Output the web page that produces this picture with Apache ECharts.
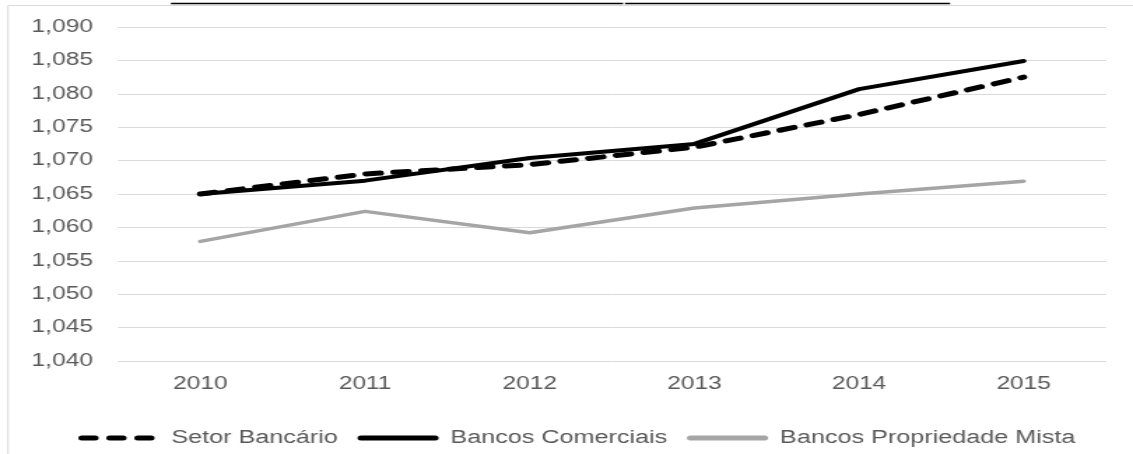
<!DOCTYPE html>
<html>
<head>
<meta charset="utf-8">
<script src="https://cdn.jsdelivr.net/npm/echarts@6/dist/echarts.min.js"></script>
<style>
  html, body { margin: 0; padding: 0; background: #fff; overflow: hidden; }
  #chart { width: 810px; height: 454px; transform: scaleX(1.39877); transform-origin: 0 0; }
</style>
</head>
<body>
<div id="chart"></div>
<script>
// Years on the category axis
const years = ['2010', '2011', '2012', '2013', '2014', '2015'];

// Series values
const setorBancario = [1.0650, 1.0680, 1.0694, 1.0720, 1.0769, 1.0825];
const bancosComerciais = [1.0650, 1.0670, 1.0704, 1.0725, 1.0807, 1.0849];
const bancosPropriedadeMista = [1.0579, 1.0624, 1.0592, 1.0629, 1.0650, 1.0669];

// Value axis range
const yMin = 1.040;
const yMax = 1.090;
const yStep = 0.005;

const labelColor = '#595959';
const fontFamily = '"Liberation Sans", Arial, sans-serif';

const dashPattern = [10.5, 9.5];

const chart = echarts.init(document.getElementById('chart'));

chart.setOption({
  animation: false,
  backgroundColor: '#ffffff',
  grid: { left: 84.4, right: 19.3, top: 27, bottom: 93 },
  xAxis: {
    type: 'category',
    data: years,
    boundaryGap: true,
    axisLine: { show: false },
    axisTick: { show: false },
    axisLabel: { color: labelColor, fontSize: 17.5, fontFamily: fontFamily, margin: 14 }
  },
  yAxis: {
    type: 'value',
    min: yMin,
    max: yMax,
    interval: yStep,
    axisLine: { show: false },
    axisTick: { show: false },
    splitLine: { lineStyle: { color: '#d9d9d9', width: 1 } },
    axisLabel: {
      color: labelColor, fontSize: 17.5, fontFamily: fontFamily, margin: 18,
      formatter: v => v.toFixed(3).replace('.', ',')
    }
  },
  legend: {
    left: 51,
    top: 424,
    itemWidth: 53,
    itemHeight: 14,
    itemGap: 14,
    itemStyle: { opacity: 0 },
    textStyle: { color: labelColor, fontSize: 18, fontFamily: fontFamily, padding: [0, 0, 0, 6] },
    data: [
      { name: 'Setor Bancário', itemStyle: { opacity: 0 }, lineStyle: { color: '#000000', width: 5, type: [9.5, 10.5], cap: 'round' } },
      { name: 'Bancos Comerciais', itemStyle: { opacity: 0 }, lineStyle: { color: '#000000', width: 5 } },
      { name: 'Bancos Propriedade Mista', itemStyle: { opacity: 0 }, lineStyle: { color: '#a5a5a5', width: 5 } }
    ]
  },
  series: [
    {
      name: 'Setor Bancário',
      type: 'line',
      data: setorBancario,
      symbol: 'none',
      z: 4,
      color: '#000000',
      lineStyle: { color: '#000000', width: 5, type: dashPattern, cap: 'round', join: 'round' }
    },
    {
      name: 'Bancos Comerciais',
      type: 'line',
      data: bancosComerciais,
      symbol: 'none',
      z: 3,
      color: '#000000',
      lineStyle: { color: '#000000', width: 4, cap: 'round', join: 'round' }
    },
    {
      name: 'Bancos Propriedade Mista',
      type: 'line',
      data: bancosPropriedadeMista,
      symbol: 'none',
      z: 2,
      color: '#a5a5a5',
      lineStyle: { color: '#a5a5a5', width: 3.5, cap: 'round', join: 'round' }
    }
  ],
  graphic: [
    // chart area frame
    { type: 'line', silent: true, shape: { x1: 5.72, y1: 5.5, x2: 810, y2: 5.5 }, style: { stroke: '#d9d9d9', lineWidth: 1 } },
    { type: 'line', silent: true, shape: { x1: 5.72, y1: 5.5, x2: 5.72, y2: 454 }, style: { stroke: '#d9d9d9', lineWidth: 1 } },
    // underline of the heading above the frame
    { type: 'line', silent: true, shape: { x1: 122.2, y1: 3.5, x2: 445.4, y2: 3.5 }, style: { stroke: '#000000', lineWidth: 1.5 } },
    { type: 'line', silent: true, shape: { x1: 446.8, y1: 3.5, x2: 679.2, y2: 3.5 }, style: { stroke: '#000000', lineWidth: 1.5 } }
  ]
});
</script>
</body>
</html>
